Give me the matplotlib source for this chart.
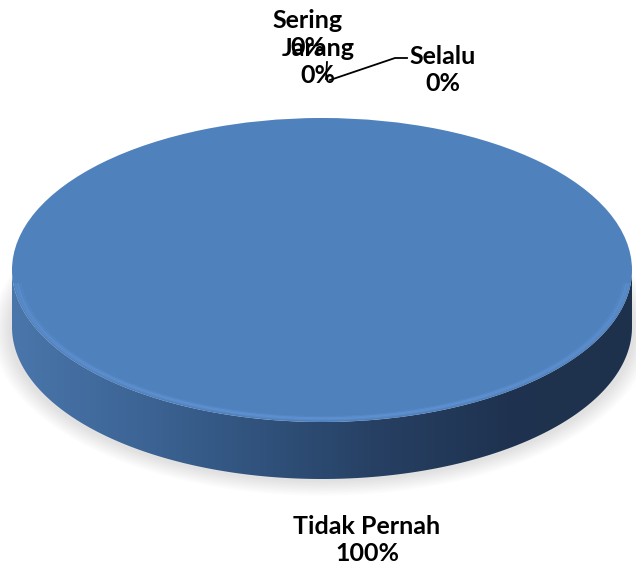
import numpy as np
import matplotlib
matplotlib.use("Agg")
import matplotlib.pyplot as plt
from matplotlib.colors import LinearSegmentedColormap
from matplotlib.patches import Polygon, Ellipse

categories = ["Selalu", "Sering", "Jarang", "Tidak Pernah"]
values = [0, 0, 0, 100]
percent_labels = ["0%", "0%", "0%", "100%"]

W, H = 636, 569
fig = plt.figure(figsize=(W / 100, H / 100), dpi=100)
ax = fig.add_axes([0, 0, 1, 1])

# pie geometry in pixels (top face ellipse)
cx, cy, rx, ry, depth_px = 322, 270, 310, 152, 57
depth = depth_px / ry

def px(x, y):
    # top-down pixel -> figure fraction
    return x / W, 1 - y / H

# soft shadow under the disc
for i in range(10):
    ax.add_patch(Ellipse((0.0, -depth - 0.02), 2.02 + i * 0.012, 2.0 + i * 0.02,
                         color="#000000", alpha=0.012, lw=0, zorder=0))

# side of the disc with horizontal gradient
t = np.linspace(np.pi, 2 * np.pi, 300)
side_x = np.concatenate([np.cos(t), np.cos(t[::-1])])
side_y = np.concatenate([np.sin(t), np.sin(t[::-1]) - depth])
side = Polygon(np.column_stack([side_x, side_y]), closed=True, fc="none", ec="none", zorder=1)
ax.add_patch(side)
side_cmap = LinearSegmentedColormap.from_list(
    "side", ["#4a76ab", "#3d6596", "#30527c", "#263f62", "#1f3350", "#1e314c"])
grad = np.linspace(0, 1, 512).reshape(1, -1)
im = ax.imshow(grad, cmap=side_cmap, extent=(-1, 1, -1 - depth, 0), aspect="auto",
               zorder=1, interpolation="bicubic")
im.set_clip_path(side)

# top face
wedges, _ = ax.pie(values, radius=1, center=(0, 0), startangle=90, counterclock=False,
                   colors=["#4f81bd"] * len(values),
                   wedgeprops=dict(linewidth=0, zorder=2))
ax.set_aspect("auto")
ax.set_xlim(-cx / rx, (W - cx) / rx)
ax.set_ylim(-(H - cy) / ry, cy / ry)

# soft light bevel along the front edge
tr = np.linspace(np.pi * 1.03, np.pi * 1.97, 200)
for s, a in [(0.993, 0.3), (0.985, 0.35), (0.977, 0.15)]:
    ax.plot(s * np.cos(tr), (s - 0.01) * np.sin(tr), color="#6fa2e6", lw=1.4,
            alpha=a, zorder=3, solid_capstyle="round")
ax.axis("off")

# labels
label_pos = [(443, 70), (308, 34), (318, 62), (367, 540)]
font = dict(family="Lato", fontweight="bold", fontsize=18, color="#000000",
            ha="center", va="center", linespacing=1.2)
for name, pct, (lx, ly) in zip(categories, percent_labels, label_pos):
    fig.text(*px(lx, ly), f"{name}\n{pct}", **font)

# leader lines
lines = [[(407, 58), (395, 58), (330, 80)], [(327, 62), (326, 79)]]
for ln in lines:
    xs, ys = zip(*[px(x, y) for x, y in ln])
    fig.add_artist(plt.Line2D(xs, ys, color="black", lw=1.3, transform=fig.transFigure))

fig.savefig("out.png", dpi=100, facecolor="white")
